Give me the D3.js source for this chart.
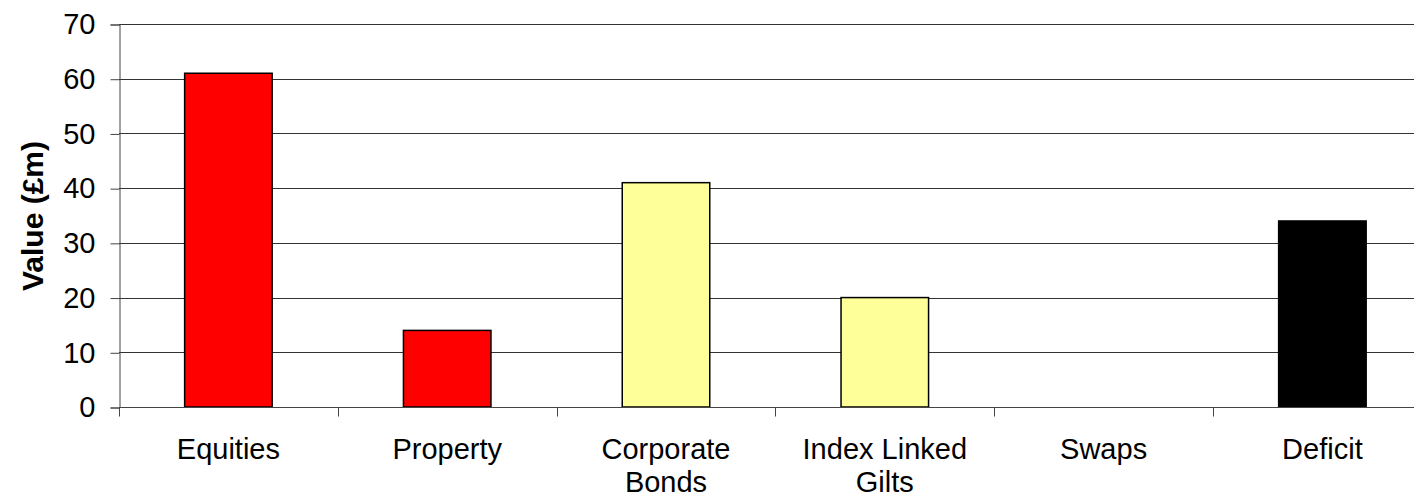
<!DOCTYPE html>
<html>
<head>
<meta charset="utf-8">
<title>Value by asset</title>
<script src="https://cdn.jsdelivr.net/npm/d3@7"></script>
<style>
  body { margin: 0; background: #fff; }
  text { font-family: "Liberation Sans", Arial, sans-serif; fill: #000; }
</style>
</head>
<body>
<div id="chart"></div>
<script>
var categories = ["Equities", "Property", "Corporate Bonds", "Index Linked Gilts", "Swaps", "Deficit"];
var labelLines = [["Equities"], ["Property"], ["Corporate", "Bonds"], ["Index Linked", "Gilts"], ["Swaps"], ["Deficit"]];
var values = [61, 14, 41, 20, 0, 34];
var barColors = ["#ff0000", "#ff0000", "#ffff99", "#ffff99", "#ffff99", "#000000"];
var yTicks = [0, 10, 20, 30, 40, 50, 60, 70];

var width = 1414, height = 503;
var margin = {left: 119, top: 24};
var plotH = 383;
var band = 218.8;

var svg = d3.select("#chart").append("svg")
  .attr("width", width)
  .attr("height", height);

var x = d3.scaleBand()
  .domain(categories)
  .range([margin.left, margin.left + band * categories.length])
  .paddingInner(0.6).paddingOuter(0.3);

var y = d3.scaleLinear().domain([0, 70]).range([margin.top + plotH, margin.top]);

// gridlines
svg.append("g").selectAll("line")
  .data(yTicks.filter(function(d) { return d > 0; }))
  .enter().append("line")
  .attr("x1", margin.left).attr("x2", width)
  .attr("y1", function(d) { return Math.round(y(d)) + 0.5; })
  .attr("y2", function(d) { return Math.round(y(d)) + 0.5; })
  .attr("stroke", "#333").attr("stroke-width", 1);

// y axis
var yAxis = d3.axisLeft(y).tickValues(yTicks).tickSize(9).tickPadding(15);
var gy = svg.append("g")
  .attr("transform", "translate(" + (margin.left + 0.5) + ",0.5)")
  .call(yAxis);
gy.select(".domain").attr("stroke", "#444");
gy.selectAll(".tick line").attr("stroke", "#444");
gy.selectAll("text").attr("font-size", 29).attr("font-family", "Liberation Sans, Arial, sans-serif");

// bars
svg.append("g").selectAll("rect")
  .data(values)
  .enter().append("rect")
  .attr("x", function(d, i) { return x(categories[i]); })
  .attr("y", function(d) { return y(d); })
  .attr("width", x.bandwidth())
  .attr("height", function(d) { return y(0) - y(d); })
  .attr("fill", function(d, i) { return barColors[i]; })
  .attr("stroke", "#000")
  .attr("stroke-width", function(d) { return d > 0 ? 1.5 : 0; });

// x axis line and ticks
var x0 = y(0) + 0.5;
svg.append("line")
  .attr("x1", margin.left).attr("x2", width)
  .attr("y1", x0).attr("y2", x0)
  .attr("stroke", "#444");
svg.append("g").selectAll("line")
  .data(d3.range(categories.length + 1))
  .enter().append("line")
  .attr("x1", function(i) { return Math.round(margin.left + i * band) + 0.5; })
  .attr("x2", function(i) { return Math.round(margin.left + i * band) + 0.5; })
  .attr("y1", x0).attr("y2", x0 + 9)
  .attr("stroke", "#444");

// category labels
var lab = svg.append("g").selectAll("text")
  .data(categories)
  .enter().append("text")
  .attr("text-anchor", "middle")
  .attr("font-size", 29)
  .attr("transform", function(d) {
    return "translate(" + (x(d) + x.bandwidth() / 2) + ",459)";
  });
lab.selectAll("tspan")
  .data(function(d, i) { return labelLines[i]; })
  .enter().append("tspan")
  .attr("x", 0)
  .attr("y", function(d, j) { return j * 33; })
  .text(function(d) { return d; });

// y axis title
svg.append("text")
  .attr("transform", "translate(43,216) rotate(-90)")
  .attr("text-anchor", "middle")
  .attr("font-size", 30)
  .attr("font-weight", "bold")
  .text("Value (£m)");
</script>
</body>
</html>
